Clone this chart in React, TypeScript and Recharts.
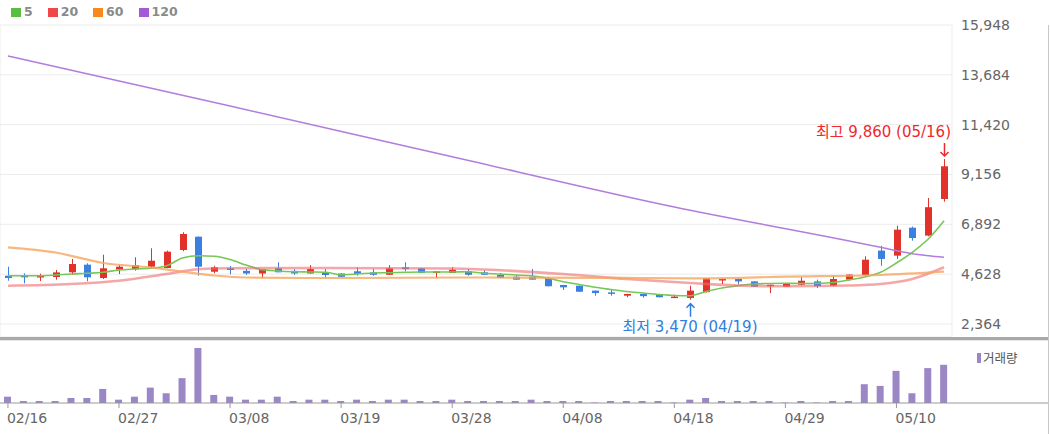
import { ComposedChart, Bar, Line, XAxis, YAxis, CartesianGrid } from 'recharts';

const _ = null;

const dates = [
  '02/16', '02/19', '02/20', '02/21', '02/22', '02/23', '02/26', '02/27', '02/28', '03/01',
  '03/02', '03/05', '03/06', '03/07', '03/08', '03/09', '03/12', '03/13', '03/14', '03/15',
  '03/16', '03/19', '03/20', '03/21', '03/22', '03/23', '03/26', '03/27', '03/28', '03/29',
  '03/30', '04/01', '04/02', '04/03', '04/05', '04/08', '04/09', '04/10', '04/11', '04/12',
  '04/15', '04/16', '04/18', '04/19', '04/22', '04/23', '04/24', '04/25', '04/26', '04/29',
  '04/30', '05/02', '05/03', '05/06', '05/07', '05/08', '05/10', '05/13', '05/14', '05/16',
];

const opens = [
  4558, 4558, 4500, 4500, 4713, 5060, 4454, 4832, 4850, 4968,
  4908, 5727, 6330, 4740, 4895, 4780, 4660, 4895, 4780, 4660,
  4713, 4660, 4760, 4713, 4600, 4940, 4895, 4680, 4680, 4760,
  4713, 4590, 4510, 4510, 4440, 4137, 4105, 3880, 3800, 3650,
  3730, 3700, 3580, 3550, 3810, 4340, 4409, 4300, 4080, 4060,
  4150, 4300, 4110, 4380, 4590, 5700, 5470, 6740, 6380, 8043,
];
const highs = [
  4968, 4667, 4649, 4818, 5317, 5122, 5512, 5060, 5395, 5804,
  5700, 6530, 6340, 5010, 5000, 4870, 4865, 5170, 4850, 5040,
  4860, 4670, 4940, 4860, 5040, 5170, 4900, 4765, 4940, 4860,
  4800, 4680, 4600, 4860, 4500, 4140, 4110, 3885, 3955, 3735,
  3735, 3730, 3700, 4105, 4445, 4440, 4440, 4305, 4155, 4215,
  4490, 4380, 4560, 4615, 5440, 5920, 6830, 6790, 8090, 9860,
];
const lows = [
  4332, 4212, 4318, 4377, 4590, 4304, 4409, 4636, 4790, 4908,
  4900, 5670, 4560, 4667, 4620, 4600, 4440, 4713, 4600, 4660,
  4490, 4505, 4560, 4560, 4600, 4760, 4675, 4450, 4680, 4560,
  4595, 4450, 4375, 4375, 4075, 3910, 3825, 3650, 3650, 3580,
  3560, 3575, 3575, 3470, 3800, 4180, 4170, 4055, 3770, 4055,
  4110, 4000, 4080, 4330, 4560, 5010, 5320, 6150, 6350, 7920,
];
const closes = [
  4454, 4485, 4545, 4709, 5090, 4486, 4895, 4968, 5030, 5240,
  5650, 6453, 4968, 4940, 4818, 4660, 4860, 4713, 4660, 4860,
  4590, 4510, 4636, 4600, 4895, 4860, 4680, 4760, 4830, 4600,
  4600, 4454, 4380, 4380, 4080, 4030, 3830, 3770, 3770, 3730,
  3630, 3580, 3610, 3880, 4440, 4409, 4300, 4060, 4150, 4210,
  4330, 4080, 4409, 4610, 5285, 5320, 6650, 6270, 7670, 9530,
];
// 거래량 (천주)
const volumes = [
  252, 80, 80, 80, 200, 200, 560, 132, 252, 612,
  388, 988, 2188, 320, 252, 132, 132, 252, 80, 132,
  132, 80, 132, 80, 132, 132, 80, 80, 132, 80,
  80, 80, 80, 132, 80, 80, 80, 20, 80, 80,
  80, 80, 20, 132, 200, 80, 80, 80, 80, 20,
  80, 20, 80, 80, 748, 680, 1280, 388, 1388, 1520,
];

const ma5 = [
  4558, 4558, 4558, 4590, 4636, 4668, 4713, 4818, 4863, 4895,
  5013, 5360, 5467, 5440, 5295, 5045, 4831, 4772, 4740, 4727,
  4713, 4604, 4636, 4681, 4695, 4713, 4727, 4727, 4727, 4740,
  4668, 4636, 4590, 4558, 4454, 4286, 4160, 4032, 3932, 3841,
  3773, 3705, 3660, 3650, 3841, 4000, 4105, 4182, 4205, 4214,
  4205, 4214, 4250, 4363, 4500, 4713, 5136, 5622, 6226, 7057,
];
const ma20 = [
  4105, _, _, _, 4182, _, _, 4332, _, _,
  4636, _, 4850, _, 4895, _, _, _, _, _,
  4908, _, _, _, _, _, _, _, 4886, _,
  4840, _, _, _, _, 4636, _, _, _, 4409,
  _, _, _, 4227, _, _, 4114, _, _, 4078,
  _, _, _, 4114, _, 4182, _, 4409, _, 4940,
];
const ma60 = [
  5849, _, _, 5613, _, _, 5136, _, _, 4931,
  _, 4740, _, 4568, _, 4477, _, _, _, _,
  4454, _, _, _, _, _, _, _, _, _,
  4477, _, _, _, _, _, _, _, _, _,
  4454, _, _, _, 4440, _, _, _, _, 4513,
  _, _, _, _, _, 4590, _, _, _, 4740,
];
const ma120 = [
  14540, _, _, _, _, _, _, _, _, _,
  _, _, _, _, 12268, _, _, _, _, _,
  _, _, _, _, _, _, _, _, 9960, _,
  _, _, _, _, _, _, _, _, _, _,
  _, _, 7680, _, _, _, _, _, _, _,
  _, _, _, _, _, 5848, 5694, 5558, 5467, 5394,
];

const priceTicks = [2364, 4628, 6892, 9156, 11420, 13684, 15948];
const dateTicks = ['02/16', '02/27', '03/08', '03/19', '03/28', '04/08', '04/18', '04/29', '05/10'];

const maSeries = [
  { key: 'ma5', name: '5', color: '#59bd3f', line: '#74c857', width: 1.6, opacity: 1 },
  { key: 'ma20', name: '20', color: '#ef4848', line: '#ee6a6a', width: 2.6, opacity: 0.6 },
  { key: 'ma60', name: '60', color: '#f7891f', line: '#f6a55c', width: 2.2, opacity: 0.8 },
  { key: 'ma120', name: '120', color: '#a25ad6', line: '#b27ddd', width: 1.5, opacity: 1 },
];

const RED = '#e2302a';
const BLUE = '#3a80e2';
const FONT = '"DejaVu Sans", "Noto Sans CJK KR", sans-serif';

const rows = dates.map((date, i) => ({
  date,
  open: opens[i],
  high: highs[i],
  low: lows[i],
  close: closes[i],
  volume: volumes[i],
  ma5: ma5[i],
  ma20: ma20[i],
  ma60: ma60[i],
  ma120: ma120[i],
}));

const maxIdx = highs.indexOf(Math.max(...highs));
const minIdx = lows.indexOf(Math.min(...lows));
const fmt = (v: number) => v.toLocaleString('en-US');

const Candle = (props: any) => {
  const { x, y, width, height, payload, index } = props;
  const { open, close, high, low, date } = payload;
  const color = close >= open ? RED : BLUE;
  const top = Math.min(y, y + height);
  const bot = Math.max(y, y + height);
  const span = high - low || 1;
  const py = (v: number) => top + ((high - v) / span) * (bot - top);
  const cx = Math.round(x + width / 2);
  const bTop = py(Math.max(open, close));
  const bBot = py(Math.min(open, close));
  return (
    <g>
      <line x1={cx + 0.5} x2={cx + 0.5} y1={top} y2={bot} stroke={color} strokeWidth={1} />
      <rect x={cx - 3} y={bTop} width={7} height={Math.max(1.5, bBot - bTop)} fill={color} />
      {index === maxIdx && (
        <g>
          <text x={cx + 7} y={top - 22} textAnchor="end" fill="#f0282d" fontSize={15} fontFamily={FONT}>
            {`최고 ${fmt(high)} (${date})`}
          </text>
          <path d={`M${cx + 0.5},${top - 16} V${top - 3} M${cx - 3.5},${top - 7} L${cx + 0.5},${top - 3} L${cx + 4.5},${top - 7}`}
            stroke="#f0282d" strokeWidth={1.5} fill="none" />
        </g>
      )}
      {index === minIdx && (
        <g>
          <text x={cx} y={bot + 32} textAnchor="middle" fill="#2f7fe0" fontSize={15} fontFamily={FONT}>
            {`최저 ${fmt(low)} (${date})`}
          </text>
          <path d={`M${cx + 0.5},${bot + 17} V${bot + 4} M${cx - 3.5},${bot + 8} L${cx + 0.5},${bot + 4} L${cx + 4.5},${bot + 8}`}
            stroke="#2f7fe0" strokeWidth={1.5} fill="none" />
        </g>
      )}
    </g>
  );
};

const DateTick = (props: any) => {
  const { x, y, payload } = props;
  return (
    <text x={x - 1} y={y + 13} fill="#666" fontSize={14} fontFamily={FONT} textAnchor="start">
      {payload.value}
    </text>
  );
};

export default function App() {
  return (
    <div style={{ position: 'fixed', left: 0, top: 0, width: 1050, height: 434, background: '#fff', overflow: 'hidden', fontFamily: FONT }}>
      <div style={{ position: 'absolute', left: 11, top: 4, display: 'flex', gap: 15, alignItems: 'center' }}>
        {maSeries.map((s) => (
          <div key={s.key} style={{ display: 'flex', alignItems: 'center', gap: 3 }}>
            <span style={{ display: 'inline-block', width: 10, height: 9, background: s.color }} />
            <span style={{ fontSize: 12.5, fontWeight: 'bold', color: '#8a8a8a', lineHeight: '16px' }}>{s.name}</span>
          </div>
        ))}
      </div>

      <div style={{ position: 'absolute', left: 0, top: 0 }}>
        <ComposedChart width={1048} height={337} data={rows} margin={{ top: 25, right: 0, bottom: 0, left: 0 }}>
          <CartesianGrid stroke="#ececec" strokeWidth={1} />
          <XAxis dataKey="date" ticks={dateTicks} height={0} tick={false} tickLine={false} axisLine={false} interval={0} />
          <YAxis
            orientation="right"
            width={96}
            domain={[1774, 15948]}
            ticks={priceTicks}
            allowDataOverflow
            tickLine={false}
            axisLine={false}
            tickSize={0}
            tickMargin={9}
            tickFormatter={fmt}
            tick={{ fill: '#666', fontSize: 14, fontFamily: FONT }}
          />
          {maSeries.map((s) => (
            <Line
              key={s.key}
              dataKey={s.key}
              name={s.name}
              type="monotone"
              stroke={s.line}
              strokeWidth={s.width}
              strokeOpacity={s.opacity}
              dot={false}
              activeDot={false}
              connectNulls
              isAnimationActive={false}
            />
          ))}
          <Bar dataKey={(d: any) => [d.low, d.high]} shape={<Candle />} isAnimationActive={false} />
        </ComposedChart>
      </div>

      <div style={{ position: 'absolute', left: 0, top: 337, width: 1049, height: 3, background: '#a9a9a9' }} />
      <div style={{ position: 'absolute', left: 0, top: 340, width: 1048, height: 1, background: '#e6e6e6' }} />

      <div style={{ position: 'absolute', left: 0, top: 340 }}>
        <ComposedChart width={1048} height={94} data={rows} margin={{ top: 8, right: 0, bottom: 0, left: 0 }}>
          <XAxis
            dataKey="date"
            ticks={dateTicks}
            interval={0}
            height={31}
            padding={{ left: 0, right: 96 }}
            tickSize={5}
            tickMargin={2}
            stroke="#999"
            tickLine={{ stroke: '#999' }}
            tick={<DateTick />}
          />
          <YAxis hide domain={[0, 'dataMax']} />
          <Bar dataKey="volume" fill="#9b86c6" barSize={7} isAnimationActive={false} />
        </ComposedChart>
      </div>

      <div style={{ position: 'absolute', left: 977, top: 352, display: 'flex', alignItems: 'center', gap: 2 }}>
        <span style={{ display: 'inline-block', width: 4, height: 10, background: '#9b86c6' }} />
        <span style={{ fontSize: 12.5, color: '#555', lineHeight: '12px', fontFamily: '"Noto Sans CJK KR", sans-serif' }}>거래량</span>
      </div>

      <div style={{ position: 'absolute', left: 1048, top: 25, width: 1, height: 409, background: '#c8c8c8' }} />
    </div>
  );
}
